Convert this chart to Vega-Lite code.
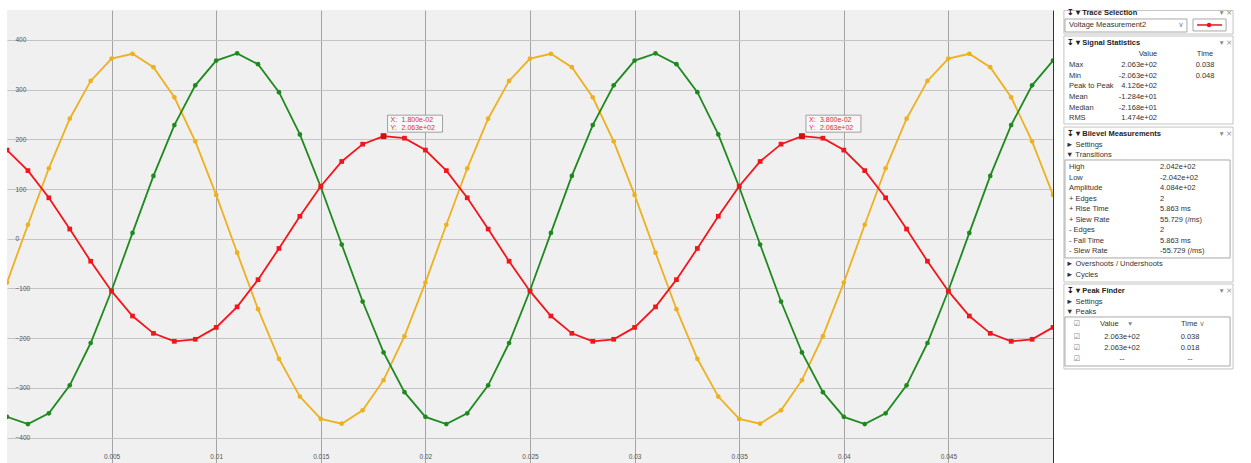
{
  "$schema": "https://vega.github.io/schema/vega-lite/v6.json",
  "background": "white",
  "padding": {"left": 7, "top": 8, "right": 0, "bottom": 0},
  "config": {"font": "Liberation Sans", "view": {"stroke": null}},
  "spacing": 9,
  "bounds": "flush",
  "datasets": {
    "sig": [
      {"t":0,"s":"A","v":-88.2},{"t":0.001,"s":"A","v":28.1},{"t":0.002,"s":"A","v":141.7},{"t":0.003,"s":"A","v":241.4},{"t":0.004,"s":"A","v":317.4},{"t":0.005,"s":"A","v":362.4},{"t":0.006,"s":"A","v":371.9},{"t":0.007,"s":"A","v":345.1},{"t":0.008,"s":"A","v":284.4},{"t":0.009,"s":"A","v":195.9},
      {"t":0.01,"s":"A","v":88.2},{"t":0.011,"s":"A","v":-28.1},{"t":0.012,"s":"A","v":-141.7},{"t":0.013,"s":"A","v":-241.4},{"t":0.014,"s":"A","v":-317.4},{"t":0.015,"s":"A","v":-362.4},{"t":0.016,"s":"A","v":-371.9},{"t":0.017,"s":"A","v":-345.1},{"t":0.018,"s":"A","v":-284.4},{"t":0.019,"s":"A","v":-195.9},
      {"t":0.02,"s":"A","v":-88.2},{"t":0.021,"s":"A","v":28.1},{"t":0.022,"s":"A","v":141.7},{"t":0.023,"s":"A","v":241.4},{"t":0.024,"s":"A","v":317.4},{"t":0.025,"s":"A","v":362.4},{"t":0.026,"s":"A","v":371.9},{"t":0.027,"s":"A","v":345.1},{"t":0.028,"s":"A","v":284.4},{"t":0.029,"s":"A","v":195.9},
      {"t":0.03,"s":"A","v":88.2},{"t":0.031,"s":"A","v":-28.1},{"t":0.032,"s":"A","v":-141.7},{"t":0.033,"s":"A","v":-241.4},{"t":0.034,"s":"A","v":-317.4},{"t":0.035,"s":"A","v":-362.4},{"t":0.036,"s":"A","v":-371.9},{"t":0.037,"s":"A","v":-345.1},{"t":0.038,"s":"A","v":-284.4},{"t":0.039,"s":"A","v":-195.9},
      {"t":0.04,"s":"A","v":-88.2},{"t":0.041,"s":"A","v":28.1},{"t":0.042,"s":"A","v":141.7},{"t":0.043,"s":"A","v":241.4},{"t":0.044,"s":"A","v":317.4},{"t":0.045,"s":"A","v":362.4},{"t":0.046,"s":"A","v":371.9},{"t":0.047,"s":"A","v":345.1},{"t":0.048,"s":"A","v":284.4},{"t":0.049,"s":"A","v":195.9},{"t":0.05,"s":"A","v":88.2},
      {"t":0,"s":"B","v":-358.2},{"t":0.001,"s":"B","v":-372.8},{"t":0.002,"s":"B","v":-351.0},{"t":0.003,"s":"B","v":-294.7},{"t":0.004,"s":"B","v":-209.7},{"t":0.005,"s":"B","v":-104.1},{"t":0.006,"s":"B","v":11.7},{"t":0.007,"s":"B","v":126.3},{"t":0.008,"s":"B","v":228.6},{"t":0.009,"s":"B","v":308.5},
      {"t":0.01,"s":"B","v":358.2},{"t":0.011,"s":"B","v":372.8},{"t":0.012,"s":"B","v":351.0},{"t":0.013,"s":"B","v":294.7},{"t":0.014,"s":"B","v":209.7},{"t":0.015,"s":"B","v":104.1},{"t":0.016,"s":"B","v":-11.7},{"t":0.017,"s":"B","v":-126.3},{"t":0.018,"s":"B","v":-228.6},{"t":0.019,"s":"B","v":-308.5},
      {"t":0.02,"s":"B","v":-358.2},{"t":0.021,"s":"B","v":-372.8},{"t":0.022,"s":"B","v":-351.0},{"t":0.023,"s":"B","v":-294.7},{"t":0.024,"s":"B","v":-209.7},{"t":0.025,"s":"B","v":-104.1},{"t":0.026,"s":"B","v":11.7},{"t":0.027,"s":"B","v":126.3},{"t":0.028,"s":"B","v":228.6},{"t":0.029,"s":"B","v":308.5},
      {"t":0.03,"s":"B","v":358.2},{"t":0.031,"s":"B","v":372.8},{"t":0.032,"s":"B","v":351.0},{"t":0.033,"s":"B","v":294.7},{"t":0.034,"s":"B","v":209.7},{"t":0.035,"s":"B","v":104.1},{"t":0.036,"s":"B","v":-11.7},{"t":0.037,"s":"B","v":-126.3},{"t":0.038,"s":"B","v":-228.6},{"t":0.039,"s":"B","v":-308.5},
      {"t":0.04,"s":"B","v":-358.2},{"t":0.041,"s":"B","v":-372.8},{"t":0.042,"s":"B","v":-351.0},{"t":0.043,"s":"B","v":-294.7},{"t":0.044,"s":"B","v":-209.7},{"t":0.045,"s":"B","v":-104.1},{"t":0.046,"s":"B","v":11.7},{"t":0.047,"s":"B","v":126.3},{"t":0.048,"s":"B","v":228.6},{"t":0.049,"s":"B","v":308.5},{"t":0.05,"s":"B","v":358.2},
      {"t":0,"s":"C","v":178.3},{"t":0.001,"s":"C","v":137.0},{"t":0.002,"s":"C","v":82.3},{"t":0.003,"s":"C","v":19.5},{"t":0.004,"s":"C","v":-45.2},{"t":0.005,"s":"C","v":-105.5},{"t":0.006,"s":"C","v":-155.4},{"t":0.007,"s":"C","v":-190.2},{"t":0.008,"s":"C","v":-206.3},{"t":0.009,"s":"C","v":-202.2},
      {"t":0.01,"s":"C","v":-178.3},{"t":0.011,"s":"C","v":-137.0},{"t":0.012,"s":"C","v":-82.3},{"t":0.013,"s":"C","v":-19.5},{"t":0.014,"s":"C","v":45.2},{"t":0.015,"s":"C","v":105.5},{"t":0.016,"s":"C","v":155.4},{"t":0.017,"s":"C","v":190.2},{"t":0.018,"s":"C","v":206.3},{"t":0.019,"s":"C","v":202.2},
      {"t":0.02,"s":"C","v":178.3},{"t":0.021,"s":"C","v":137.0},{"t":0.022,"s":"C","v":82.3},{"t":0.023,"s":"C","v":19.5},{"t":0.024,"s":"C","v":-45.2},{"t":0.025,"s":"C","v":-105.5},{"t":0.026,"s":"C","v":-155.4},{"t":0.027,"s":"C","v":-190.2},{"t":0.028,"s":"C","v":-206.3},{"t":0.029,"s":"C","v":-202.2},
      {"t":0.03,"s":"C","v":-178.3},{"t":0.031,"s":"C","v":-137.0},{"t":0.032,"s":"C","v":-82.3},{"t":0.033,"s":"C","v":-19.5},{"t":0.034,"s":"C","v":45.2},{"t":0.035,"s":"C","v":105.5},{"t":0.036,"s":"C","v":155.4},{"t":0.037,"s":"C","v":190.2},{"t":0.038,"s":"C","v":206.3},{"t":0.039,"s":"C","v":202.2},
      {"t":0.04,"s":"C","v":178.3},{"t":0.041,"s":"C","v":137.0},{"t":0.042,"s":"C","v":82.3},{"t":0.043,"s":"C","v":19.5},{"t":0.044,"s":"C","v":-45.2},{"t":0.045,"s":"C","v":-105.5},{"t":0.046,"s":"C","v":-155.4},{"t":0.047,"s":"C","v":-190.2},{"t":0.048,"s":"C","v":-206.3},{"t":0.049,"s":"C","v":-202.2},{"t":0.05,"s":"C","v":-178.3}
    ],
    "tips": [
      {"t":0.018,"v":206.3,"xs":"1.800e-02","ys":"2.063e+02"},
      {"t":0.038,"v":206.3,"xs":"3.800e-02","ys":"2.063e+02"}
    ],
    "frames": [
      {"k":"frame","r1":-0.24,"r2":2.0,"x1":1.1,"x2":98.3},
      {"k":"inner","r1":0.57,"r2":1.81,"x1":1.7,"x2":71.8},
      {"k":"inner","r1":0.57,"r2":1.71,"x1":75.3,"x2":94.3},
      {"k":"frame","r1":2.19,"r2":10.57,"x1":1.1,"x2":98.3},
      {"k":"frame","r1":10.86,"r2":25.62,"x1":1.1,"x2":98.3},
      {"k":"inner","r1":14.0,"r2":23.33,"x1":1.7,"x2":96.6},
      {"k":"frame","r1":25.81,"r2":33.9,"x1":1.1,"x2":98.3},
      {"k":"inner","r1":28.95,"r2":33.62,"x1":1.7,"x2":96.6}
    ],
    "icon": [
      {"r":1.14,"x1":77.6,"x2":92.0,"xm":84.5}
    ],
    "panel": [
      {"r":0,"x":2.9,"t":"↧ ▾ Trace Selection","s":"h"},
      {"r":0,"x":94.3,"t":"▾ ×","s":"g"},
      {"r":1.14,"x":4,"t":"Voltage Measurement2","s":"l"},
      {"r":1.14,"x":68.4,"t":"∨","s":"g"},
      {"r":2.86,"x":2.9,"t":"↧ ▾ Signal Statistics","s":"h"},
      {"r":2.86,"x":94.3,"t":"▾ ×","s":"g"},
      {"r":3.9,"x":49.4,"t":"Value","s":"c"},
      {"r":3.9,"x":82.2,"t":"Time","s":"c"},
      {"r":4.95,"x":4,"t":"Max","s":"l"},
      {"r":4.95,"x":54.6,"t":"2.063e+02","s":"r"},
      {"r":4.95,"x":82.2,"t":"0.038","s":"c"},
      {"r":6,"x":4,"t":"Min","s":"l"},
      {"r":6,"x":54.6,"t":"-2.063e+02","s":"r"},
      {"r":6,"x":82.2,"t":"0.048","s":"c"},
      {"r":6.95,"x":4,"t":"Peak to Peak","s":"l"},
      {"r":6.95,"x":54.6,"t":"4.126e+02","s":"r"},
      {"r":8,"x":4,"t":"Mean","s":"l"},
      {"r":8,"x":54.6,"t":"-1.284e+01","s":"r"},
      {"r":9.05,"x":4,"t":"Median","s":"l"},
      {"r":9.05,"x":54.6,"t":"-2.168e+01","s":"r"},
      {"r":10,"x":4,"t":"RMS","s":"l"},
      {"r":10,"x":54.6,"t":"1.474e+02","s":"r"},
      {"r":11.5,"x":2.9,"t":"↧ ▾ Bilevel Measurements","s":"h"},
      {"r":11.5,"x":94.3,"t":"▾ ×","s":"g"},
      {"r":12.57,"x":2.3,"t":"► Settings","s":"l"},
      {"r":13.5,"x":2.3,"t":"▼ Transitions","s":"l"},
      {"r":14.67,"x":4,"t":"High","s":"l"},
      {"r":14.67,"x":56.3,"t":"2.042e+02","s":"l"},
      {"r":15.7,"x":4,"t":"Low","s":"l"},
      {"r":15.7,"x":56.3,"t":"-2.042e+02","s":"l"},
      {"r":16.67,"x":4,"t":"Amplitude","s":"l"},
      {"r":16.67,"x":56.3,"t":"4.084e+02","s":"l"},
      {"r":17.7,"x":4,"t":"+ Edges","s":"l"},
      {"r":17.7,"x":56.3,"t":"2","s":"l"},
      {"r":18.67,"x":4,"t":"+ Rise Time","s":"l"},
      {"r":18.67,"x":56.3,"t":"5.863 ms","s":"l"},
      {"r":19.7,"x":4,"t":"+ Slew Rate","s":"l"},
      {"r":19.7,"x":56.3,"t":"55.729 (/ms)","s":"l"},
      {"r":20.67,"x":4,"t":"- Edges","s":"l"},
      {"r":20.67,"x":56.3,"t":"2","s":"l"},
      {"r":21.7,"x":4,"t":"- Fall Time","s":"l"},
      {"r":21.7,"x":56.3,"t":"5.863 ms","s":"l"},
      {"r":22.67,"x":4,"t":"- Slew Rate","s":"l"},
      {"r":22.67,"x":56.3,"t":"-55.729 (/ms)","s":"l"},
      {"r":23.9,"x":2.3,"t":"► Overshoots / Undershoots","s":"l"},
      {"r":24.95,"x":2.3,"t":"► Cycles","s":"l"},
      {"r":26.5,"x":2.9,"t":"↧ ▾ Peak Finder","s":"h"},
      {"r":26.5,"x":94.3,"t":"▾ ×","s":"g"},
      {"r":27.5,"x":2.3,"t":"► Settings","s":"l"},
      {"r":28.5,"x":2.3,"t":"▼ Peaks","s":"l"},
      {"r":29.6,"x":8.6,"t":"☑","s":"g"},
      {"r":29.6,"x":21.8,"t":"Value","s":"l"},
      {"r":29.6,"x":39.1,"t":"▾","s":"g"},
      {"r":29.6,"x":68.4,"t":"Time","s":"l"},
      {"r":29.6,"x":80.5,"t":"∨","s":"g"},
      {"r":30.86,"x":8.6,"t":"☑","s":"g"},
      {"r":30.86,"x":34.5,"t":"2.063e+02","s":"c"},
      {"r":30.86,"x":73.6,"t":"0.038","s":"c"},
      {"r":31.9,"x":8.6,"t":"☑","s":"g"},
      {"r":31.9,"x":34.5,"t":"2.063e+02","s":"c"},
      {"r":31.9,"x":73.6,"t":"0.018","s":"c"},
      {"r":32.95,"x":8.6,"t":"☑","s":"g"},
      {"r":32.95,"x":34.5,"t":"--","s":"c"},
      {"r":32.95,"x":73.6,"t":"--","s":"c"}
    ]
  },
  "hconcat": [
    {
      "width": 1046,
      "height": 455,
      "view": {"fill": "#f0f0f0", "stroke": null},
      "resolve": {"axis": {"x": "independent", "y": "independent"}},
      "layer": [
        {
          "data": {"name": "sig"},
          "mark": {"type": "line", "strokeWidth": 1.8, "clip": true},
          "encoding": {
            "x": {"field": "t", "type": "quantitative", "scale": {"domain": [0, 0.05], "nice": false, "zero": false},
              "axis": {"orient": "bottom", "title": null, "values": [0.005,0.01,0.015,0.02,0.025,0.03,0.035,0.04,0.045], "format": "~g", "grid": true, "gridColor": "#a4a4a4", "domain": false, "ticks": false, "labelPadding": -12, "labelFontSize": 6.5, "labelColor": "#555555"}},
            "y": {"field": "v", "type": "quantitative", "scale": {"domain": [-455, 460], "nice": false, "zero": false},
              "axis": {"orient": "left", "title": null, "values": [-400,-300,-200,-100,0,100,200,300,400], "format": "d", "grid": true, "gridColor": "#c4c4c4", "domain": false, "ticks": false, "labelAlign": "left", "labelPadding": -8, "labelFontSize": 6.5, "labelColor": "#555555"}},
            "color": {"field": "s", "type": "nominal", "scale": {"domain": ["A","B","C"], "range": ["#EDB120","#1E8A1E","#F2161C"]}, "legend": null}
          }
        },
        {
          "data": {"name": "sig"},
          "mark": {"type": "point", "filled": true, "opacity": 1, "size": 22, "clip": true},
          "encoding": {
            "x": {"field": "t", "type": "quantitative", "axis": null},
            "y": {"field": "v", "type": "quantitative", "axis": null},
            "color": {"field": "s", "type": "nominal", "legend": null},
            "shape": {"field": "s", "type": "nominal", "scale": {"domain": ["A","B","C"], "range": ["circle","circle","square"]}, "legend": null}
          }
        },
        {
          "data": {"name": "tips"},
          "mark": {"type": "rect", "fill": "#f7f7f7", "fillOpacity": 0.9, "stroke": "#a0a0a0", "strokeWidth": 1, "xOffset": 4, "x2Offset": 59, "yOffset": -21, "y2Offset": -4},
          "encoding": {
            "x": {"field": "t", "type": "quantitative", "axis": null},
            "x2": {"field": "t"},
            "y": {"field": "v", "type": "quantitative",
              "axis": {"orient": "right", "title": null, "labels": false, "grid": false, "domain": true, "domainColor": "#333333", "ticks": false}},
            "y2": {"field": "v"}
          }
        },
        {
          "data": {"name": "tips"},
          "mark": {"type": "point", "shape": "square", "filled": true, "size": 34, "color": "#D01010", "opacity": 1},
          "encoding": {
            "x": {"field": "t", "type": "quantitative", "axis": null},
            "y": {"field": "v", "type": "quantitative", "axis": null}
          }
        },
        {
          "data": {"name": "tips"},
          "mark": {"type": "text", "align": "left", "baseline": "middle", "dx": 7, "dy": -16, "fontSize": 7, "fill": "#E0302A"},
          "encoding": {
            "x": {"field": "t", "type": "quantitative", "axis": null},
            "y": {"field": "v", "type": "quantitative", "axis": null},
            "text": {"value": "X:"}
          }
        },
        {
          "data": {"name": "tips"},
          "mark": {"type": "text", "align": "left", "baseline": "middle", "dx": 7, "dy": -8, "fontSize": 7, "fill": "#E0302A"},
          "encoding": {
            "x": {"field": "t", "type": "quantitative", "axis": null},
            "y": {"field": "v", "type": "quantitative", "axis": null},
            "text": {"value": "Y:"}
          }
        },
        {
          "data": {"name": "tips"},
          "mark": {"type": "text", "align": "left", "baseline": "middle", "dx": 18, "dy": -16, "fontSize": 7, "fill": "#E0302A"},
          "encoding": {
            "x": {"field": "t", "type": "quantitative", "axis": null},
            "y": {"field": "v", "type": "quantitative", "axis": null},
            "text": {"field": "xs"}
          }
        },
        {
          "data": {"name": "tips"},
          "mark": {"type": "text", "align": "left", "baseline": "middle", "dx": 18, "dy": -8, "fontSize": 7, "fill": "#E0302A"},
          "encoding": {
            "x": {"field": "t", "type": "quantitative", "axis": null},
            "y": {"field": "v", "type": "quantitative", "axis": null},
            "text": {"field": "ys"}
          }
        }
      ]
    },
    {
      "width": 174,
      "height": 455,
      "view": {"stroke": null},
      "layer": [
        {
          "data": {"name": "frames"},
          "transform": [{"filter": "datum.k == 'frame'"}],
          "mark": {"type": "rect", "fill": "white", "stroke": "#c4c4c4", "strokeWidth": 1},
          "encoding": {
            "x": {"field": "x1", "type": "quantitative", "scale": {"domain": [0, 100], "nice": false, "zero": false}, "axis": null},
            "x2": {"field": "x2"},
            "y": {"field": "r1", "type": "quantitative", "scale": {"domain": [-0.2857, 43.0476], "reverse": true, "nice": false, "zero": false}, "axis": null},
            "y2": {"field": "r2"}
          }
        },
        {
          "data": {"name": "frames"},
          "transform": [{"filter": "datum.k == 'inner'"}],
          "mark": {"type": "rect", "fill": "white", "stroke": "#a8a8a8", "strokeWidth": 1},
          "encoding": {
            "x": {"field": "x1", "type": "quantitative", "axis": null},
            "x2": {"field": "x2"},
            "y": {"field": "r1", "type": "quantitative", "axis": null},
            "y2": {"field": "r2"}
          }
        },
        {
          "data": {"name": "icon"},
          "mark": {"type": "rule", "stroke": "#E8141C", "strokeWidth": 1.5},
          "encoding": {
            "x": {"field": "x1", "type": "quantitative", "axis": null},
            "x2": {"field": "x2"},
            "y": {"field": "r", "type": "quantitative", "axis": null}
          }
        },
        {
          "data": {"name": "icon"},
          "mark": {"type": "point", "shape": "circle", "filled": true, "size": 20, "color": "#E8141C", "opacity": 1},
          "encoding": {
            "x": {"field": "xm", "type": "quantitative", "axis": null},
            "y": {"field": "r", "type": "quantitative", "axis": null}
          }
        },
        {
          "data": {"name": "panel"},
          "transform": [{"filter": "datum.s == 'h'"}],
          "mark": {"type": "text", "align": "left", "baseline": "middle", "fontSize": 7.5, "fontWeight": "bold", "fill": "#222222"},
          "encoding": {
            "x": {"field": "x", "type": "quantitative", "axis": null},
            "y": {"field": "r", "type": "quantitative", "axis": null},
            "text": {"field": "t"}
          }
        },
        {
          "data": {"name": "panel"},
          "transform": [{"filter": "datum.s == 'l'"}],
          "mark": {"type": "text", "align": "left", "baseline": "middle", "fontSize": 7.5, "fill": "#333333"},
          "encoding": {
            "x": {"field": "x", "type": "quantitative", "axis": null},
            "y": {"field": "r", "type": "quantitative", "axis": null},
            "text": {"field": "t"}
          }
        },
        {
          "data": {"name": "panel"},
          "transform": [{"filter": "datum.s == 'r'"}],
          "mark": {"type": "text", "align": "right", "baseline": "middle", "fontSize": 7.5, "fill": "#333333"},
          "encoding": {
            "x": {"field": "x", "type": "quantitative", "axis": null},
            "y": {"field": "r", "type": "quantitative", "axis": null},
            "text": {"field": "t"}
          }
        },
        {
          "data": {"name": "panel"},
          "transform": [{"filter": "datum.s == 'c'"}],
          "mark": {"type": "text", "align": "center", "baseline": "middle", "fontSize": 7.5, "fill": "#333333"},
          "encoding": {
            "x": {"field": "x", "type": "quantitative", "axis": null},
            "y": {"field": "r", "type": "quantitative", "axis": null},
            "text": {"field": "t"}
          }
        },
        {
          "data": {"name": "panel"},
          "transform": [{"filter": "datum.s == 'g'"}],
          "mark": {"type": "text", "align": "center", "baseline": "middle", "fontSize": 7.5, "fill": "#8a8a8a", "font": "DejaVu Sans"},
          "encoding": {
            "x": {"field": "x", "type": "quantitative", "axis": null},
            "y": {"field": "r", "type": "quantitative", "axis": null},
            "text": {"field": "t"}
          }
        }
      ]
    }
  ]
}
